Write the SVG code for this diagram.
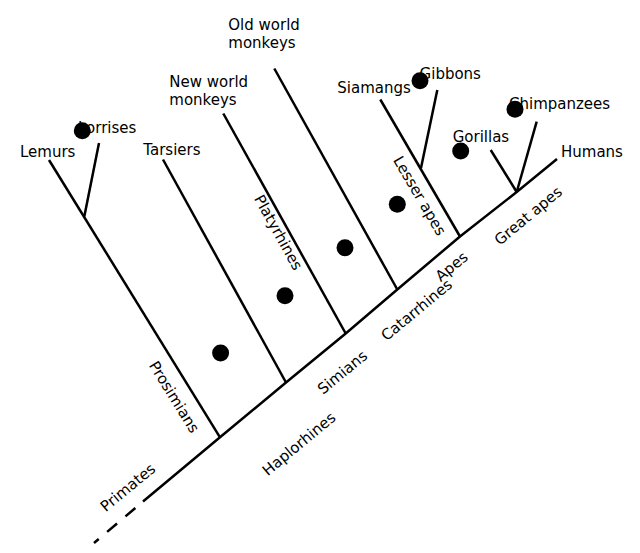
<svg xmlns="http://www.w3.org/2000/svg" width="640" height="553" viewBox="0 0 640 553">
<style>
.l{fill:none;stroke:#000;stroke-width:2.5;stroke-linejoin:round}
.t{font-family:"DejaVu Sans",sans-serif;font-size:15px;fill:#000}
.m{text-anchor:middle}
.d{fill:#000}
</style>
<rect width="640" height="553" fill="#fff"/>
<g id="connectors">
<path class="l" d="M143,501.5 L220,437.3 L286,382.5 L345.7,333.5 L397.3,289.5 L460,236.5 L516.7,192 L557,159"/>
<path class="l" d="M143,501.5 L94,543" stroke-dasharray="13 11" stroke-dashoffset="14"/>
<path class="l" d="M49,160 L220,437.3"/>
<path class="l" d="M99,143 L84.3,216.5"/>
<path class="l" d="M163,159.5 L286,382.5"/>
<path class="l" d="M223.3,113.5 L345.7,333.5"/>
<path class="l" d="M274.3,68.5 L397.3,289.5"/>
<path class="l" d="M380.3,99.5 L460,236.5"/>
<path class="l" d="M437.3,90 L421,168"/>
<path class="l" d="M490.7,150 L516.7,192"/>
<path class="l" d="M536.7,121.7 L516.7,192"/>
</g>
<g id="lemurs"><text class="t" x="20" y="157">Lemurs</text></g>
<g id="lorrises"><text class="t" x="78" y="133">Lorrises</text><circle class="d" cx="82.3" cy="130.7" r="8.5"/></g>
<g id="tarsiers"><text class="t" x="143.3" y="155">Tarsiers</text></g>
<g id="new-world-monkeys"><text class="t" x="169.3" y="86.5">New world</text><text class="t" x="169.3" y="104.5">monkeys</text></g>
<g id="old-world-monkeys"><text class="t" x="228.3" y="30">Old world</text><text class="t" x="228.3" y="48">monkeys</text></g>
<g id="siamangs"><text class="t" x="337.3" y="93.3">Siamangs</text></g>
<g id="gibbons"><text class="t" x="419.6" y="79.3">Gibbons</text><circle class="d" cx="420" cy="80.7" r="8.5"/></g>
<g id="chimpanzees"><text class="t" x="509" y="109">Chimpanzees</text><circle class="d" cx="515" cy="109.3" r="8.5"/></g>
<g id="gorillas"><text class="t" x="452.7" y="142.3">Gorillas</text><circle class="d" cx="460.7" cy="151" r="8.5"/></g>
<g id="humans"><text class="t" x="561" y="156.7">Humans</text></g>
<g id="lesser-apes"><text class="t m" transform="translate(415.2,198.3) rotate(59.7)">Lesser apes</text><circle class="d" cx="397.3" cy="204.3" r="8.5"/></g>
<g id="catarrhines-dot"><circle class="d" cx="345" cy="247.7" r="8.5"/></g>
<g id="platyrhines"><text class="t m" transform="translate(273.9,234.9) rotate(60.9)">Platyrhines</text><circle class="d" cx="285" cy="295.7" r="8.5"/></g>
<g id="prosimians"><text class="t m" transform="translate(169.8,399.7) rotate(58.3)">Prosimians</text><circle class="d" cx="220.6" cy="353" r="8.5"/></g>
<g id="catarrhines"><text class="t m" transform="translate(419.9,313.9) rotate(-39.6)">Catarrhines</text></g>
<g id="apes"><text class="t m" transform="translate(454.9,270.5) rotate(-39.6)">Apes</text></g>
<g id="great-apes"><text class="t m" transform="translate(531.5,219.7) rotate(-39.6)">Great apes</text></g>
<g id="simians"><text class="t m" transform="translate(345.7,376.3) rotate(-39.6)">Simians</text></g>
<g id="haplorhines"><text class="t m" transform="translate(302.2,447.9) rotate(-39.6)">Haplorhines</text></g>
<g id="primates"><text class="t m" transform="translate(131.2,491.4) rotate(-39.6)">Primates</text></g>
</svg>
